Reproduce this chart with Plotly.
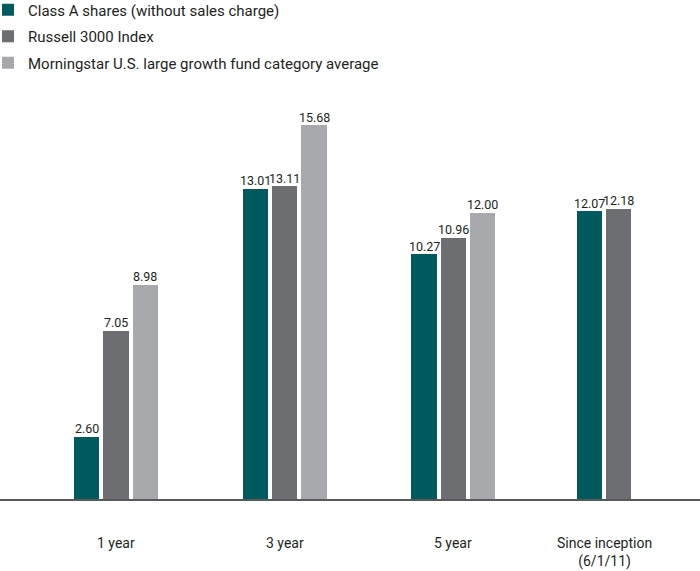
import plotly.graph_objects as go

categories = ["1 year", "3 year", "5 year", "Since inception<br>(6/1/11)"]
series_names = [
    "Class A shares (without sales charge)",
    "Russell 3000 Index",
    "Morningstar U.S. large growth fund category average",
]
class_a = [2.60, 13.01, 10.27, 12.07]
russell = [7.05, 13.11, 10.96, 12.18]
morningstar = [8.98, 15.68, 12.00, None]
colors = ["#005a5e", "#6d6e72", "#a7a9ac"]

series_values = [class_a, russell, morningstar]

# layout geometry (axis units)
group_pos = [0, 1, 2, 2.893]
bar_width = 0.15
bar_pitch = 0.174

FONT = "Roboto, Arial, sans-serif"

fig = go.Figure()
n_per_group = [sum(1 for s in series_values if s[i] is not None) for i in range(len(categories))]
for k, (name, vals, col) in enumerate(zip(series_names, series_values, colors)):
    xs, ys = [], []
    for i, v in enumerate(vals):
        if v is None:
            continue
        n = n_per_group[i]
        xs.append(group_pos[i] + (k - (n - 1) / 2) * bar_pitch)
        ys.append(v)
    fig.add_trace(go.Bar(
        x=xs, y=ys, name=name, width=bar_width,
        marker=dict(color=col, line=dict(width=0)),
        legendgroup=f"g{k}", hoverinfo="skip",
    ))
    for xv, yv in zip(xs, ys):
        fig.add_annotation(x=xv, y=yv, xref="x", yref="y", text=f"{yv:.2f}",
                           showarrow=False, yanchor="bottom", yshift=-1.5,
                           font=dict(family=FONT, size=12.5, color="#231f20"))

for i, c in enumerate(categories):
    fig.add_annotation(x=group_pos[i], y=0, xref="x", yref="y", text=c,
                       showarrow=False, yanchor="top", yshift=-34,
                       font=dict(family=FONT, size=14, color="#231f20"))

fig.update_layout(
    width=700, height=571,
    margin=dict(l=0, r=0, t=100, b=72, autoexpand=False),
    paper_bgcolor="white", plot_bgcolor="white",
    showlegend=True,
    legend=dict(x=0, y=1.267, xanchor="left", yanchor="top", indentation=-12,
                font=dict(family=FONT, size=15, color="#231f20"),
                tracegroupgap=4, bgcolor="rgba(0,0,0,0)"),
    xaxis=dict(range=[-116 / 168.7, (700 - 116) / 168.7], showticklabels=False,
               showgrid=False, zeroline=False, showline=True,
               linecolor="#58595b", linewidth=2, ticks=""),
    yaxis=dict(range=[0, 399 / 23.85], visible=False),
    bargap=0,
)

fig.write_html(
    "out.html",
    config={"displayModeBar": False},
    post_script="document.body.style.margin='0';document.body.style.overflow='hidden';",
)
